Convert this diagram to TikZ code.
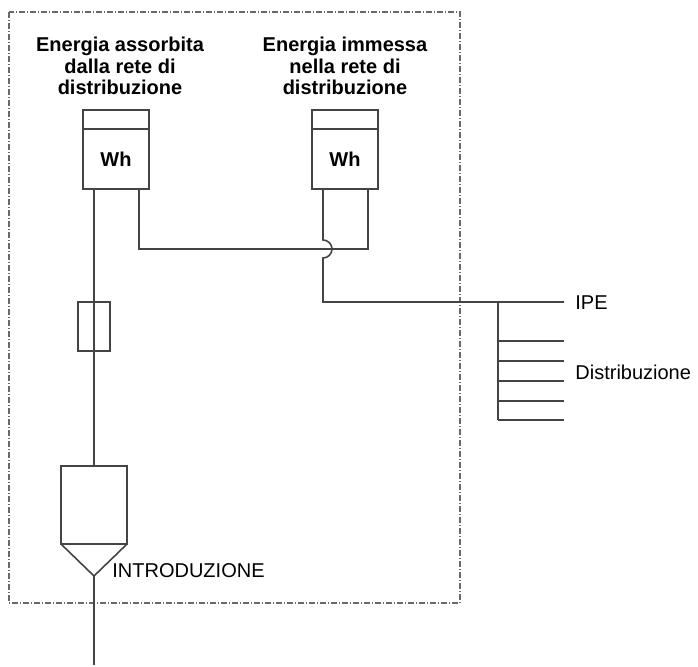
\documentclass[tikz,border=0pt]{standalone}
\usepackage{fontspec}
\setmainfont{Liberation Sans}
\usetikzlibrary{positioning,calc}
\definecolor{wirecol}{HTML}{444444}
\definecolor{framecol}{HTML}{6A6A6A}

\begin{document}
\begin{tikzpicture}[x=0.5pt,y=-0.5pt,
wire/.style={draw=wirecol,line width=0.8pt},
meter/.style={wire,shape=rectangle,minimum width=33pt,minimum height=30pt,inner sep=0pt,outer sep=0pt,font=\bfseries\fontsize{10}{11}\selectfont},
meterhead/.style={wire,shape=rectangle,minimum width=33pt,minimum height=9.5pt,inner sep=0pt,outer sep=0pt},
fuse/.style={wire,shape=rectangle,minimum width=16pt,minimum height=24.5pt,inner sep=0pt,outer sep=0pt},
intro/.style={wire,shape=rectangle,minimum width=33pt,minimum height=39pt,inner sep=0pt,outer sep=0pt},
heading/.style={align=center,inner sep=0pt,font=\bfseries\fontsize{10}{10.6}\selectfont},
lbl/.style={inner sep=0pt,font=\fontsize{10}{11}\selectfont}]
\useasboundingbox (0,0) rectangle (698,666);
\draw[framecol,line width=0.6pt,dash pattern=on 3pt off 1pt on 0.5pt off 1pt] (9,12) rectangle (460,603);
% meters
\node[meter] (m1) at (116,159) {Wh};
\node[meterhead,above=0pt of m1] (m1h) {};
\node[meter] (m2) at (345,159) {Wh};
\node[meterhead,above=0pt of m2] (m2h) {};
\node[heading,anchor=north] (t1) at (120,37) {Energia assorbita\\dalla rete di\\distribuzione};
\node[heading,anchor=north] (t2) at (345,37) {Energia immessa\\nella rete di\\distribuzione};
% fuse and introduction
\node[fuse] (f1) at (94,326.5) {};
\node[intro] (in1) at (94,505) {};
\coordinate (tip) at (94,576);
\coordinate (feed) at (94,665);
\node[lbl,anchor=base west] (intxt) at (112,577) {INTRODUZIONE};
\draw[wire] (m1.south -| f1) -- (in1.north);
\draw[wire] (in1.south west) -- (tip) -- (in1.south east);
\draw[wire] (tip) -- (feed);
% crossing wires
\coordinate (j1) at (139,249);
\coordinate (j2) at (368,249);
\coordinate (hop) at (323,249);
\coordinate (k1) at (323,302);
\coordinate (bus) at (498,302);
\coordinate (ipe) at (564,302);
\draw[wire] (m1.south -| j1) -- (j1) -- (j2) -- (m2.south -| j2);
\draw[wire] (m2.south -| hop) -- ($(hop)+(0,-9)$) arc[start angle=90,end angle=-90,radius=4.5pt] -- (k1) -- (ipe);
\node[lbl,anchor=base west] (ipetxt) at (575,309) {IPE};
% distribution
\draw[wire] (bus) -- (498,420);
\foreach \y in {341,361,381,401,420}
  \draw[wire] (498,\y) -- (564,\y);
\node[lbl,anchor=base west] (distxt) at (575,379) {Distribuzione};
\end{tikzpicture}
\end{document}
